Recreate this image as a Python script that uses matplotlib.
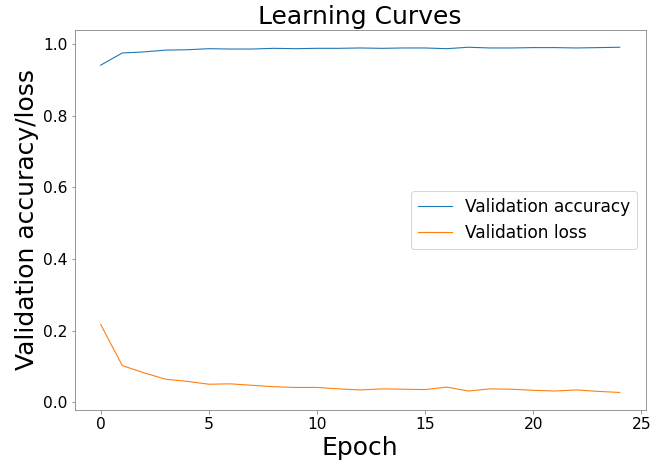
import matplotlib
matplotlib.use("Agg")
from matplotlib import pyplot as plt

epochs = list(range(25))
val_acc = [0.941, 0.975, 0.978, 0.983, 0.984, 0.987, 0.986, 0.986, 0.988, 0.987,
           0.988, 0.988, 0.989, 0.988, 0.989, 0.989, 0.987, 0.991, 0.989, 0.989,
           0.990, 0.990, 0.989, 0.990, 0.991]
val_loss = [0.217, 0.102, 0.082, 0.064, 0.058, 0.050, 0.051, 0.047, 0.043, 0.041,
            0.041, 0.037, 0.034, 0.037, 0.036, 0.035, 0.042, 0.031, 0.037, 0.036,
            0.033, 0.031, 0.034, 0.030, 0.027]

fig = plt.figure(figsize=(657 / 72, 465 / 72), dpi=72)
ax = fig.add_axes([0.1137, 0.1189, 0.9828 - 0.1137, 0.9355 - 0.1189])

ax.plot(epochs, val_acc, lw=1.1, label='Validation accuracy')
ax.plot(epochs, val_loss, lw=1.1, label='Validation loss')

ax.set_title("Learning Curves", fontsize=25)
ax.set_xlabel("Epoch", fontsize=25)
ax.set_ylabel("Validation accuracy/loss", fontsize=25)
ax.tick_params(labelsize=15.5, color='#808080')
for s in ax.spines.values():
    s.set_edgecolor('#808080')
ax.legend(loc='center right', fontsize=17)

fig.savefig("out.png", dpi=72)
